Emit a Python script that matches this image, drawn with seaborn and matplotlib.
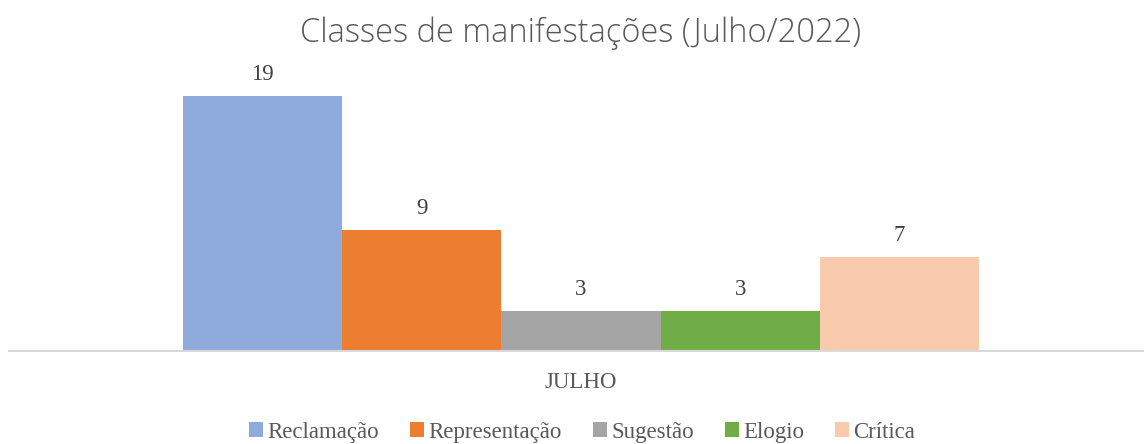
import matplotlib
matplotlib.use("Agg")
import matplotlib.pyplot as plt
import seaborn as sns
import pandas as pd
from matplotlib.patches import Patch

month = ["JULHO"]
classes = ["Reclamação", "Representação", "Sugestão", "Elogio", "Crítica"]
values = [19, 9, 3, 3, 7]
colors = ["#8FAADC", "#ED7D31", "#A5A5A5", "#70AD47", "#F8CBAD"]
title = "Classes de manifestações (Julho/2022)"

df = pd.DataFrame({"mes": month * len(classes), "classe": classes, "valor": values})

sns.set_theme(style="white")
plt.rcParams["font.family"] = ["Liberation Serif", "DejaVu Serif"]

fig = plt.figure(figsize=(11.44, 4.44), dpi=100)
ax = fig.add_axes([9 / 1144, 93 / 444, 1135 / 1144, 268 / 444])

sns.barplot(data=df, x="mes", y="valor", hue="classe", hue_order=classes,
            palette=colors, width=0.701, saturation=1, ax=ax, legend=False,
            edgecolor="none", linewidth=0)

ax.set_xlim(-0.504, 0.496)
ax.set_ylim(0, 20)
for s in ["top", "right", "left"]:
    ax.spines[s].set_visible(False)
ax.spines["bottom"].set_color("#D9D9D9")
ax.spines["bottom"].set_linewidth(1.5)
ax.set_yticks([])
ax.set_xlabel("")
ax.set_ylabel("")
ax.tick_params(axis="x", length=0, pad=15, labelsize=16.5, labelcolor="#595959")

for cont in ax.containers:
    ax.bar_label(cont, fmt="%d", padding=8, fontsize=16.5, color="#404040")

fig.text(0.5074, 0.924, title, ha="center", va="center", fontsize=23.5,
         color="#595959", family=["Open Sans", "DejaVu Sans"], fontweight="light")

handles = [Patch(facecolor=c, edgecolor="none") for c in colors]
fig.legend(handles, classes, loc="center", bbox_to_anchor=(0.5090, 0.027), ncol=5,
           frameon=False, fontsize=16.5, handlelength=0.6, handleheight=0.6,
           handletextpad=0.2, columnspacing=1.35, labelcolor="#595959")

fig.savefig("out.png", dpi=100, facecolor="white")
